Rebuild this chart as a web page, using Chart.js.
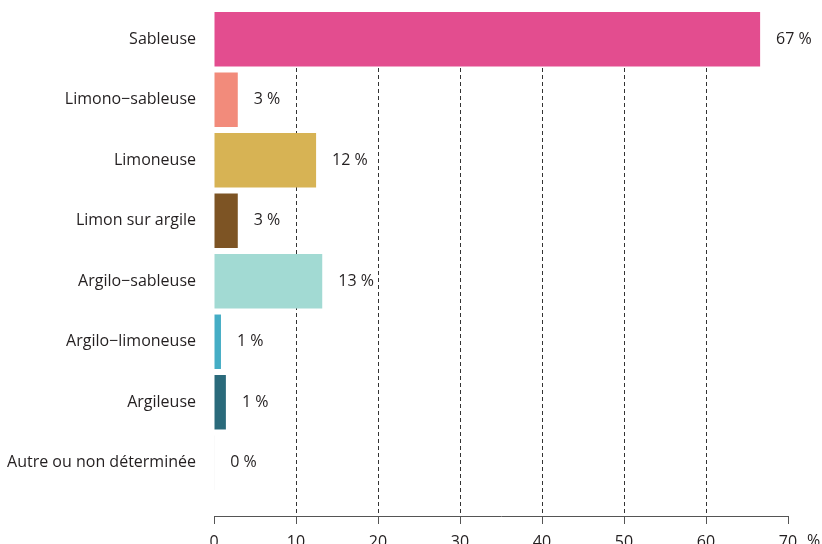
<!DOCTYPE html>
<html><head><meta charset="utf-8">
<script src="https://cdn.jsdelivr.net/npm/chart.js@4"></script>
<style>html,body{margin:0;padding:0;background:#fff;overflow:hidden}#wrap{width:822px;height:544px;position:relative}</style>
</head><body><div id="wrap"><canvas id="c"></canvas></div>
<script>
const categories = ["Sableuse","Limono\u2212sableuse","Limoneuse","Limon sur argile","Argilo\u2212sableuse","Argilo\u2212limoneuse","Argileuse","Autre ou non déterminée"];
const values = [66.6, 2.9, 12.45, 2.9, 13.2, 0.85, 1.45, 0.02];
const barColors = ["#E34D8F","#F28B7B","#D7B354","#7D5424","#A2DAD3","#45ADC5","#2A6A7B","#EFEFEF"];
const xTicks = [0,10,20,30,40,50,60,70];

const FONT = "'Open Sans', sans-serif";
const FSIZE = 16;
const TEXT = '#231F20';
Chart.defaults.font.family = FONT;
Chart.defaults.font.size = FSIZE;
Chart.defaults.color = TEXT;

const valueLabelPlugin = {
  id: 'valueLabels',
  afterDatasetsDraw(chart) {
    const ctx = chart.ctx;
    const meta = chart.getDatasetMeta(0);
    ctx.save();
    ctx.font = FSIZE + "px " + FONT;
    ctx.fillStyle = TEXT;
    ctx.textAlign = 'left';
    ctx.textBaseline = 'middle';
    meta.data.forEach((el, i) => {
      ctx.fillText(Math.round(values[i]) + ' %', el.x + 16, el.y);
    });
    const xs = chart.scales.x;
    ctx.textBaseline = 'top';
    ctx.fillText('%', xs.getPixelForValue(xTicks[xTicks.length - 1]) + 19, xs.top + 8 + 9);
    ctx.restore();
  }
};

new Chart(document.getElementById('c'), {
  type: 'bar',
  data: {
    datasets: [{
      data: values.map((v, i) => ({x: v, y: i})),
      backgroundColor: barColors,
      borderWidth: 0,
      categoryPercentage: 0.9,
      barPercentage: 1
    }]
  },
  options: {
    indexAxis: 'y',
    responsive: true,
    maintainAspectRatio: false,
    animation: false,
    layout: {padding: {top: 12, right: 34, left: 0, bottom: 0}},
    plugins: {legend: {display: false}, tooltip: {enabled: false}},
    scales: {
      y: {
        type: 'linear', reverse: true, min: -0.45, max: 7.88, offset: false, bounds: 'data',
        afterBuildTicks: a => { a.ticks = categories.map((_, i) => ({value: i})); },
        ticks: {callback: v => categories[v] ?? '', padding: 18, autoSkip: false, color: TEXT},
        grid: {display: false, drawTicks: false, offset: false},
        border: {display: false},
        afterFit: s => { s.width = 214; s.paddingTop = 0; s.paddingBottom = 0; }
      },
      x: {
        type: 'linear', min: 0, max: 70,
        afterBuildTicks: a => { a.ticks = xTicks.map(v => ({value: v})); },
        ticks: {callback: v => String(v), padding: 9, maxRotation: 0, autoSkip: false, color: TEXT},
        grid: {
          color: c => (c.tick && (c.tick.value === 0 || c.tick.value === 70)) ? 'rgba(0,0,0,0)' : '#333',
          lineWidth: 1, tickColor: '#555', tickLength: 8
        },
        border: {display: true, color: '#555', width: 1, dash: [4, 3]},
        afterFit: s => { s.height = 28; }
      }
    }
  },
  plugins: [valueLabelPlugin]
});
</script>
</body></html>
